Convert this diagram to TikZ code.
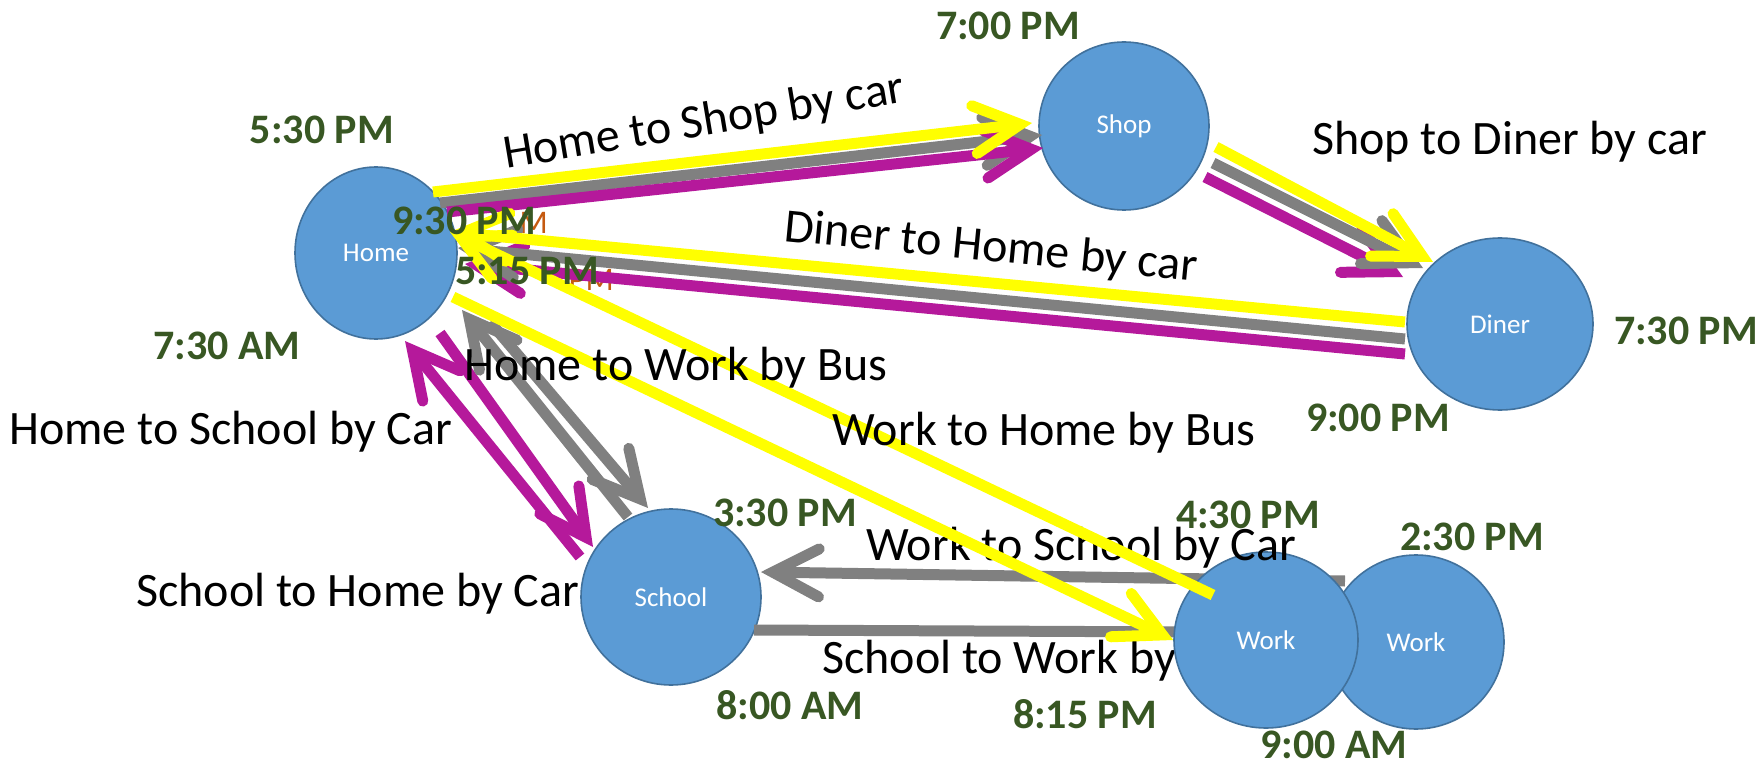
\documentclass[tikz,border=0pt]{standalone}
\usepackage{fontspec}
\setmainfont{Carlito}
\usetikzlibrary{shapes.geometric,arrows.meta,calc}

\definecolor{nodefill}{RGB}{91,155,213}
\definecolor{nodeedge}{RGB}{65,113,156}
\definecolor{timegreen}{RGB}{56,87,35}
\definecolor{routeyellow}{RGB}{255,255,0}
\definecolor{routegray}{RGB}{128,128,128}
\definecolor{routemagenta}{RGB}{181,25,155}
\definecolor{hiddenorange}{RGB}{197,90,17}

\tikzset{
    place/.style={ellipse, draw=nodeedge, fill=nodefill, line width=1.6pt,
        inner sep=0pt, text=white, font=\fontsize{27}{30}\selectfont},
    route/.style={line width=11pt,
        -{Straight Barb[length=46pt, width=48pt, line cap=round, line join=miter]}},
    bar/.style={line width=11pt},
    timestamp/.style={text=timegreen, inner sep=0pt,
        font=\fontsize{42}{46}\selectfont\bfseries},
    hiddenlabel/.style={text=hiddenorange, inner sep=0pt,
        font=\fontsize{33}{36}\selectfont},
    trip/.style={inner sep=0pt, anchor=base west, font=\fontsize{48}{52}\selectfont}
}

\begin{document}
\begin{tikzpicture}[x=1pt, y=-1pt]
    \useasboundingbox (0,0) rectangle (1762,762);

    % places
    \node[place, minimum width=162pt, minimum height=172pt] (home) at (376,253) {Home};
    \node[place, minimum width=170pt, minimum height=168pt] (shop) at (1124,126) {Shop};
    \node[place, minimum width=186pt, minimum height=172pt] (diner) at (1500,324) {Diner};
    \node[place, minimum width=180pt, minimum height=176pt] (school) at (671,597) {School};
    \node[place, minimum width=176pt, minimum height=174pt] (workb) at (1416,642) {Work};

    % labels left under the lines
    \node[hiddenlabel, anchor=east] (oldnine) at (548,223) {M};
    \node[hiddenlabel, anchor=east] (oldfive) at (614,280) {PM};

    % gray and magenta trips
    \draw[route, routegray] ($(home)+(64,-50)$) -- ($(shop)+(-82,9)$);
    \draw[route, routemagenta] ($(home)+(71,-41)$) -- ($(shop)+(-81,22)$);
    \draw[route, routemagenta] ($(shop)+(81,51)$) -- ($(diner)+(-97,-47)$);
    \draw[route, routegray] ($(shop)+(89,37)$) -- ($(diner)+(-77,-56)$);
    \draw[route, routemagenta] ($(diner)+(-95,30)$) -- ($(home)+(89,11)$);
    \draw[route, routegray] ($(diner)+(-95,15)$) -- ($(home)+(82,-5)$);

    \draw[route, routemagenta] ($(home)+(64,80)$) -- ($(school)+(-78,-50)$);
    \draw[route, routemagenta] ($(school)+(-91,-40)$) -- ($(home)+(29,88)$);
    \draw[route, routegray] ($(home)+(114,69)$) -- ($(school)+(-23,-89)$);
    \draw[route, routegray] ($(school)+(-43,-80)$) -- ($(home)+(86,57)$);

    \draw[route, routegray] ($(workb)+(-71,-61)$) -- ($(school)+(90,-25)$);
    \draw[bar, routegray] ($(school)+(83,33)$) -- ($(workb)+(-220,-10)$);

    \node[trip] (schoolwork) at (822,673) {School to Work by};
    \node[place, minimum width=184pt, minimum height=176pt] (work) at (1266,640) {Work};
    \node[trip] (workschool) at (866,560) {Work to School by Car};

    % yellow trips
    \draw[route, routeyellow] ($(home)+(57,-61)$) -- ($(shop)+(-92,-3)$);
    \draw[route, routeyellow] ($(shop)+(92,21)$) -- ($(diner)+(-67,-62)$);
    \draw[route, routeyellow] ($(diner)+(-95,-2)$) -- ($(home)+(74,-21)$);
    \draw[route, routeyellow] ($(home)+(77,44)$) -- (work.180);
    \draw[route, routeyellow] ($(work)+(-53,-45)$) -- ($(home)+(74,-21)$);

    % trip names
    \node[trip, rotate=9.5] (homeshop) at (506,169) {Home to Shop by car};
    \node[trip] (shopdiner) at (1312,155) {Shop to Diner by car};
    \node[trip, rotate=-5.6] (dinerhome) at (783,241) {Diner to Home by car};
    \node[trip] (homework) at (464,380) {Home to Work by Bus};
    \node[trip] (workhome) at (832,445) {Work to Home by Bus};
    \node[trip] (homeschool) at (9,444) {Home to School by Car};
    \node[trip] (schoolhome) at (136,606) {School to Home by Car};

    % times
    \foreach \lbl/\xx/\yy [count=\i] in {7:00 PM/1008/26, 5:30 PM/322/130,
        9:30 PM/464/221, 5:15 PM/527/271, 7:30 AM/227/346, 7:30 PM/1686/331,
        9:00 PM/1378/418, 3:30 PM/785/513, 4:30 PM/1248/515, 2:30 PM/1472/537,
        8:00 AM/790/705, 8:15 PM/1085/714, 9:00 AM/1334/745} {
        \node[timestamp] (time\i) at (\xx,\yy) {\lbl};
    }
\end{tikzpicture}
\end{document}
